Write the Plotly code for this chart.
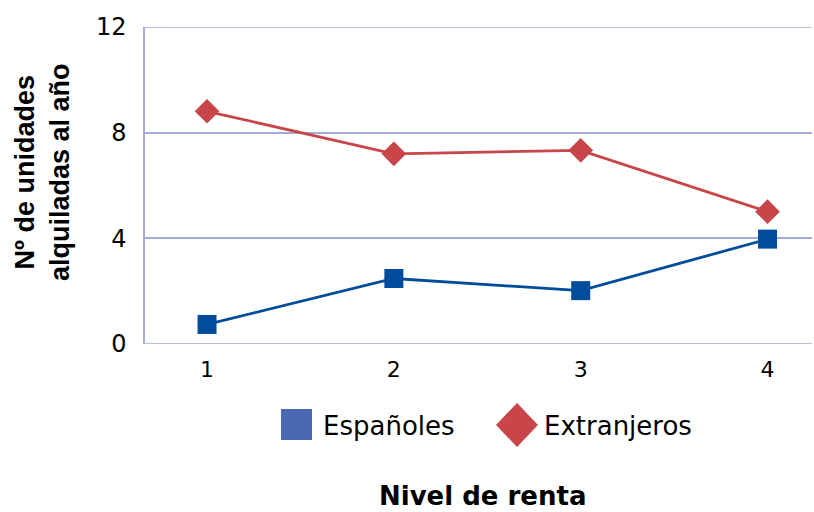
import plotly.graph_objects as go

categorias = [1, 2, 3, 4]
etiquetas_x = ["1", "2", "3", "4"]
espanoles = [0.74, 2.48, 2.02, 3.97]
extranjeros = [8.81, 7.2, 7.33, 5.01]
ticks_y = [0, 4, 8, 12]
series = ["Españoles", "Extranjeros"]

W, H = 814, 512
L, R, T, B = 145, 2, 27, 168
pw, ph = W - L - R, H - T - B

def px_x(p):
    return (p - L) / pw

def px_y(p):
    return (H - B - p) / ph

AZUL = "#004C9C"
ROJO = "#C8464A"
AZUL_LEY = "#4A69B3"
GRID = "#A3ABDA"

fig = go.Figure()
fig.add_trace(go.Scatter(
    x=categorias, y=espanoles, mode="lines+markers", name=series[0],
    line=dict(color=AZUL, width=2.8),
    marker=dict(symbol="square", size=19, color=AZUL),
    showlegend=False, cliponaxis=False))
fig.add_trace(go.Scatter(
    x=categorias, y=extranjeros, mode="lines+markers", name=series[1],
    line=dict(color=ROJO, width=2.8),
    marker=dict(symbol="diamond", size=19, color=ROJO),
    showlegend=False, cliponaxis=False))

shapes = [
    dict(type="line", xref="paper", yref="y", x0=0, x1=1,
         y0=ticks_y[0], y1=ticks_y[0], line=dict(color=GRID, width=1.5), layer="below"),
    dict(type="line", xref="paper", yref="y", x0=0, x1=1,
         y0=ticks_y[-1], y1=ticks_y[-1], line=dict(color=GRID, width=1.5), layer="below"),
    dict(type="rect", xref="paper", yref="paper",
         x0=px_x(281), x1=px_x(312), y0=px_y(440), y1=px_y(409),
         fillcolor=AZUL_LEY, line=dict(width=0)),
    dict(type="path", xref="paper", yref="paper",
         path="M {a},{b} L {c},{d} L {a},{e} L {f},{d} Z".format(
             a=px_x(517), b=px_y(403), c=px_x(538), d=px_y(425),
             e=px_y(447), f=px_x(496)),
         fillcolor=ROJO, line=dict(width=0)),
]

annotations = [
    dict(text=series[0], xref="paper", yref="paper", x=px_x(321), y=px_y(426),
         xanchor="left", yanchor="middle", showarrow=False,
         font=dict(family="DejaVu Sans", size=26, color="#000000")),
    dict(text=series[1], xref="paper", yref="paper", x=px_x(542), y=px_y(426),
         xanchor="left", yanchor="middle", showarrow=False,
         font=dict(family="DejaVu Sans", size=26, color="#000000")),
    dict(text="<b>Nivel de renta</b>", xref="paper", yref="paper",
         x=px_x(482), y=px_y(496), xanchor="center", yanchor="middle",
         showarrow=False,
         font=dict(family="DejaVu Sans", size=26, color="#000000")),
    dict(text="<b>Nº de unidades<br>alquiladas al año</b>", xref="paper", yref="paper",
         x=px_x(42), y=px_y(172), xanchor="center", yanchor="middle",
         textangle=-90, showarrow=False,
         font=dict(family="Liberation Sans", size=27, color="#000000")),
]

fig.update_layout(
    width=W, height=H,
    margin=dict(l=L, r=R, t=T, b=B),
    paper_bgcolor="white", plot_bgcolor="white",
    shapes=shapes, annotations=annotations,
    xaxis=dict(range=[0.668, 4.238], tickvals=categorias, ticktext=etiquetas_x,
               showgrid=False, zeroline=False, showline=False,
               ticks="", ticklabelstandoff=10,
               tickfont=dict(family="DejaVu Sans", size=22, color="#000000")),
    yaxis=dict(range=[0, 12], tickvals=ticks_y, showgrid=True,
               gridcolor=GRID, gridwidth=1.5, zeroline=False,
               showline=True, linecolor=GRID, linewidth=1.5,
               ticks="", ticklabelstandoff=12,
               tickfont=dict(family="DejaVu Sans", size=24, color="#000000")),
)

fig.write_html("out.html", config={"displayModeBar": False},
               post_script="document.body.style.margin='0';document.body.style.overflow='hidden';")
